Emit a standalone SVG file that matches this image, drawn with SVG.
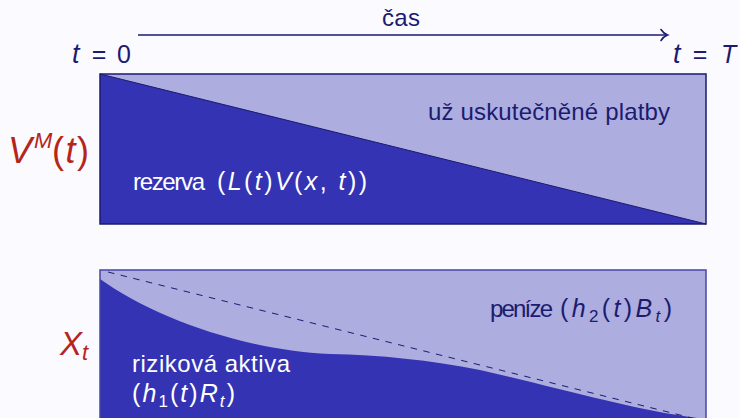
<svg xmlns="http://www.w3.org/2000/svg" width="739" height="418" viewBox="0 0 739 418">
<style>
  .txt { font-family: "Liberation Sans", Arial, sans-serif; font-size: 24px; }
  .math { font-family: "Liberation Sans", Arial, sans-serif; font-size: 25px; }
  .navy { fill: #1B1B6F; }
  .white { fill: #FFFFFF; }
  .red { fill: #B5251A; font-family: "Liberation Sans", Arial, sans-serif; }
  .it { font-style: italic; }
  .dark { fill: #3333B3; }
  .light { fill: #ADADE0; }
</style>
<rect x="0" y="0" width="739" height="418" fill="#FBFAFF"/>

<g id="connectors">
  <line x1="138" y1="35" x2="666" y2="35" stroke="#1B1B6F" stroke-width="1.6"/>
  <path d="M661,29.5 Q663.5,33.5 667.5,35 Q663.5,36.5 661,40.5" fill="none" stroke="#1B1B6F" stroke-width="1.6" stroke-linecap="round"/>
</g>

<g id="time-axis-labels">
  <text class="txt navy" x="382" y="26" textLength="38">čas</text>
  <text class="math navy" y="63"><tspan class="it" x="72" font-size="27">t</tspan><tspan x="99" text-anchor="middle">=</tspan><tspan x="117">0</tspan></text>
  <text class="math navy" y="63"><tspan class="it" x="673" font-size="27">t</tspan><tspan x="700" text-anchor="middle">=</tspan><tspan class="it" x="721">T</tspan></text>
</g>

<g id="top-panel">
  <rect x="100" y="74" width="606" height="150" class="light"/>
  <polygon points="100,74 706,224 100,224" class="dark"/>
  <line x1="100" y1="74" x2="706" y2="224" stroke="#1B1B6F" stroke-width="1"/>
  <rect x="100" y="74" width="606" height="150" fill="none" stroke="#1B1B6F" stroke-width="1.5"/>
  <text class="txt navy" x="428" y="120" textLength="242">už uskutečněné platby</text>
  <text class="txt white" x="133" y="190" textLength="72">rezerva</text>
  <text class="math white" x="217" y="190" textLength="150">(<tspan class="it">L</tspan>(<tspan class="it">t</tspan>)<tspan class="it">V</tspan>(<tspan class="it">x</tspan>, <tspan class="it">t</tspan>))</text>
</g>

<g id="label-VM">
  <text class="red" y="163" font-size="36"><tspan class="it" x="8">V</tspan><tspan class="it" x="34" y="148" font-size="22">M</tspan></text>
  <text class="red" x="52" y="163" font-size="36" textLength="37">(<tspan class="it">t</tspan>)</text>
</g>

<g id="bottom-panel">
  <rect x="100" y="270" width="606" height="160" class="light"/>
  <path d="M100,279 C150,315 240,350 330,354 C380,355 430,360 480,370 C560,388 640,412 706,419 L706,430 L100,430 Z" class="dark"/>
  <line x1="108" y1="272" x2="706" y2="421.5" stroke="#1B1B6F" stroke-width="1" stroke-dasharray="6.5 6.5"/>
  <rect x="100" y="270" width="606" height="160" fill="none" stroke="#4646A8" stroke-width="1.5"/>
  <text class="txt navy" x="490" y="317" textLength="63">peníze</text>
  <text class="math navy" x="560" y="317" textLength="112">(<tspan class="it">h</tspan><tspan font-size="17" dy="5">2</tspan><tspan dy="-5">(</tspan><tspan class="it">t</tspan>)<tspan class="it">B</tspan><tspan class="it" font-size="17" dy="5">t</tspan><tspan dy="-5">)</tspan></text>
  <text class="txt white" x="132" y="372" textLength="158">riziková aktiva</text>
  <text class="math white" x="132" y="402" textLength="103">(<tspan class="it">h</tspan><tspan font-size="17" dy="5">1</tspan><tspan dy="-5">(</tspan><tspan class="it">t</tspan>)<tspan class="it">R</tspan><tspan class="it" font-size="17" dy="5">t</tspan><tspan dy="-5">)</tspan></text>
</g>

<g id="label-X">
  <text class="red it" x="60" y="355" font-size="33">X<tspan font-size="22" dy="5">t</tspan></text>
</g>
</svg>
